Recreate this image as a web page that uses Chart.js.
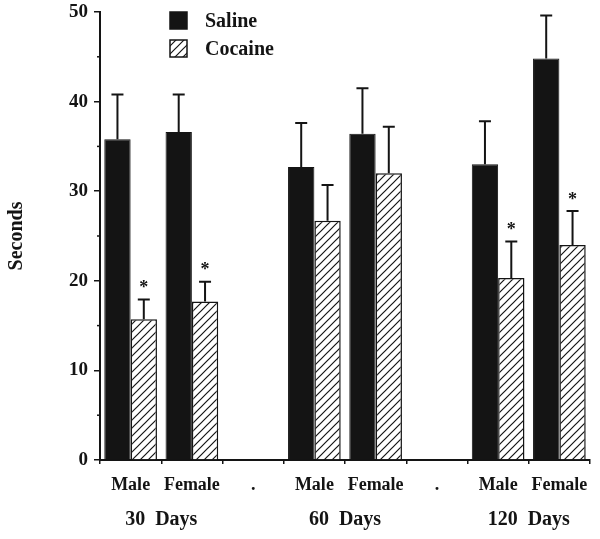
<!DOCTYPE html>
<html>
<head>
<meta charset="utf-8">
<script src="https://cdn.jsdelivr.net/npm/chart.js@4/dist/chart.umd.min.js"></script>
<style>
  html, body { margin: 0; padding: 0; background: #fff; }
  #chart { display: block; }
</style>
</head>
<body>
<canvas id="chart" width="600" height="539"></canvas>
<script>
// ===== data =====
const categories = ["Male", "Female", ".", "Male", "Female", ".", "Male", "Female"];
const groupLabels = ["30  Days", "60  Days", "120  Days"];
const salineMean = [35.8, 36.6, null, 32.7, 36.4, null, 33.0, 44.8];
const salineSem = [5.0, 4.2, null, 4.9, 5.1, null, 4.8, 4.8];
const cocaineMean = [15.7, 17.7, null, 26.7, 32.0, null, 20.3, 24.0];
const cocaineSem = [2.2, 2.2, null, 4.0, 5.2, null, 4.1, 3.8];
const cocaineStar = [true, true, false, false, false, false, true, true];
const yMax = 50;
const yStep = 10;

const FONT = "'Liberation Serif', 'Times New Roman', serif";
const INK = "#141414";

const canvas = document.getElementById("chart");
const ctx = canvas.getContext("2d");

// diagonal hatch for the cocaine bars
function makeHatch() {
  const c = document.createElement("canvas");
  c.width = 8; c.height = 8;
  const g = c.getContext("2d");
  g.fillStyle = "#fff";
  g.fillRect(0, 0, 8, 8);
  g.strokeStyle = INK;
  g.lineWidth = 1.2;
  g.beginPath();
  g.moveTo(0, 8); g.lineTo(8, 0);
  g.moveTo(-1, 1); g.lineTo(1, -1);
  g.moveTo(7, 9); g.lineTo(9, 7);
  g.stroke();
  return ctx.createPattern(c, "repeat");
}
const hatch = makeHatch();

const semByDataset = [salineSem, cocaineSem];

// error bars, asterisks, minor ticks, group labels, legend
const extras = {
  id: "extras",
  afterDatasetsDraw(chart) {
    const c = chart.ctx;
    const y = chart.scales.y;
    c.save();
    c.strokeStyle = INK;
    c.fillStyle = INK;
    c.lineWidth = 2;
    chart.data.datasets.forEach((ds, di) => {
      const meta = chart.getDatasetMeta(di);
      ds.data.forEach((v, i) => {
        if (v == null) return;
        const bar = meta.data[i];
        const top = y.getPixelForValue(v + semByDataset[di][i]);
        c.beginPath();
        c.moveTo(bar.x, bar.y);
        c.lineTo(bar.x, top);
        c.moveTo(bar.x - 6, top);
        c.lineTo(bar.x + 6, top);
        c.stroke();
        if (di === 1 && cocaineStar[i]) {
          c.font = "bold 18px " + FONT;
          c.textAlign = "center";
          c.textBaseline = "middle";
          c.fillText("*", bar.x, top - 11);
        }
      });
    });
    c.restore();
  },
  afterDraw(chart) {
    const c = chart.ctx;
    const x = chart.scales.x;
    const y = chart.scales.y;
    const area = chart.chartArea;
    c.save();
    c.strokeStyle = INK;
    c.fillStyle = INK;

    // minor ticks on the y axis
    c.lineWidth = 1.5;
    for (let v = yStep / 2; v < yMax; v += yStep) {
      const py = y.getPixelForValue(v);
      c.beginPath();
      c.moveTo(area.left - 3, py);
      c.lineTo(area.left, py);
      c.stroke();
    }

    // age group labels, centred between Male and Female
    c.font = "bold 20px " + FONT;
    c.textAlign = "center";
    c.textBaseline = "middle";
    groupLabels.forEach((g, gi) => {
      const i0 = gi * 3;
      const px = (x.getPixelForValue(i0) + x.getPixelForValue(i0 + 1)) / 2;
      c.fillText(g, px, area.bottom + 60);
    });

    // legend
    const lx = 170, ly = [12, 40], box = 17;
    chart.data.datasets.forEach((ds, di) => {
      c.fillStyle = ds.backgroundColor;
      c.fillRect(lx, ly[di], box, box);
      c.lineWidth = 1.5;
      c.strokeStyle = INK;
      c.strokeRect(lx, ly[di], box, box);
      c.fillStyle = INK;
      c.font = "bold 20px " + FONT;
      c.textAlign = "left";
      c.textBaseline = "middle";
      c.fillText(ds.label, lx + 35, ly[di] + box / 2 + 1);
    });
    c.restore();
  }
};

new Chart(canvas, {
  type: "bar",
  data: {
    labels: categories,
    datasets: [
      { label: "Saline", data: salineMean, backgroundColor: INK, borderColor: INK, borderWidth: 1 },
      { label: "Cocaine", data: cocaineMean, backgroundColor: hatch, borderColor: INK, borderWidth: 1.5 }
    ]
  },
  options: {
    responsive: false,
    animation: false,
    categoryPercentage: 0.86,
    barPercentage: 1.0,
    layout: { padding: { top: 0, right: 10, left: 0, bottom: 0 } },
    plugins: { legend: { display: false }, tooltip: { enabled: false } },
    scales: {
      x: {
        grid: { display: true, offset: true, drawOnChartArea: false, tickLength: 4, color: INK, lineWidth: 1.5 },
        border: { color: INK, width: 2 },
        ticks: { color: INK, font: { family: FONT, size: 18, weight: "bold" }, padding: 11, maxRotation: 0, autoSkip: false },
        afterFit: (s) => { s.height = 79; }
      },
      y: {
        min: 0,
        max: yMax,
        grid: { drawOnChartArea: false, tickLength: 6, color: INK, lineWidth: 1.5 },
        border: { color: INK, width: 2 },
        ticks: { stepSize: yStep, color: INK, font: { family: FONT, size: 19, weight: "bold" }, padding: 6 },
        title: { display: true, text: "Seconds", color: INK, font: { family: FONT, size: 20, weight: "bold" }, padding: { top: 5, bottom: 0 } },
        afterFit: (s) => { s.width = 100; s.paddingTop = 12; }
      }
    }
  },
  plugins: [extras]
});
</script>
</body>
</html>
